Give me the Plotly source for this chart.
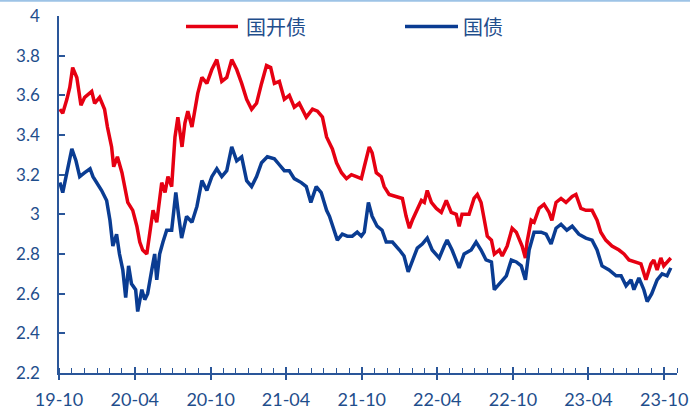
import plotly.graph_objects as go

# 国开债 (red)
cdb_dates = ["2019-10-03","2019-10-10","2019-10-20","2019-10-27","2019-11-03","2019-11-13","2019-11-23","2019-12-02","2019-12-19","2019-12-26",
"2020-01-07","2020-01-19","2020-01-26","2020-02-05","2020-02-10","2020-02-19","2020-03-01","2020-03-08","2020-03-15","2020-03-27",
"2020-04-06","2020-04-13","2020-04-20","2020-04-30","2020-05-07","2020-05-15","2020-05-24","2020-06-05","2020-06-13","2020-06-20",
"2020-06-29","2020-07-07","2020-07-14","2020-07-24","2020-07-31","2020-08-07","2020-08-17","2020-08-24","2020-08-31","2020-09-10",
"2020-09-22","2020-10-04","2020-10-16","2020-10-28","2020-11-09","2020-11-21","2020-12-03","2020-12-15","2020-12-27","2021-01-08",
"2021-01-20","2021-02-01","2021-02-13","2021-02-23","2021-03-04","2021-03-16","2021-03-28","2021-04-09","2021-04-21","2021-05-03",
"2021-05-20","2021-06-04","2021-06-16","2021-06-28","2021-07-08","2021-07-15","2021-07-22","2021-08-01","2021-08-13","2021-08-25",
"2021-09-06","2021-09-18","2021-09-30","2021-10-07","2021-10-19","2021-10-26","2021-11-05","2021-11-17","2021-11-24","2021-12-06",
"2021-12-23","2022-01-07","2022-01-16","2022-01-24","2022-01-31","2022-02-12","2022-02-22","2022-03-01","2022-03-08","2022-03-18",
"2022-03-30","2022-04-11","2022-04-23","2022-05-05","2022-05-17","2022-05-24","2022-05-31","2022-06-17","2022-06-29","2022-07-07",
"2022-07-16","2022-07-24","2022-07-31","2022-08-10","2022-08-17","2022-08-29","2022-09-05","2022-09-17","2022-09-29","2022-10-09",
"2022-10-16","2022-10-23","2022-10-31","2022-11-04","2022-11-14","2022-11-21","2022-12-03","2022-12-15","2022-12-27","2023-01-03",
"2023-01-13","2023-01-25","2023-02-06","2023-02-21","2023-03-02","2023-03-14","2023-03-26","2023-04-10","2023-04-22","2023-05-01",
"2023-05-13","2023-05-28","2023-06-14","2023-06-26","2023-07-08","2023-07-25","2023-08-06","2023-08-18","2023-08-30","2023-09-06",
"2023-09-14","2023-09-23","2023-09-30","2023-10-17"]
cdb_values = [3.53,3.51,3.58,3.64,3.74,3.69,3.55,3.59,3.62,3.56,
3.59,3.53,3.44,3.34,3.24,3.29,3.21,3.14,3.06,3.02,
2.94,2.86,2.82,2.80,2.89,3.02,2.96,3.16,3.11,3.19,
3.14,3.39,3.49,3.34,3.46,3.52,3.44,3.53,3.61,3.69,
3.66,3.73,3.78,3.67,3.69,3.78,3.73,3.66,3.58,3.53,
3.56,3.66,3.75,3.74,3.66,3.67,3.58,3.60,3.54,3.56,
3.49,3.53,3.52,3.49,3.39,3.36,3.33,3.26,3.21,3.18,
3.20,3.19,3.18,3.24,3.34,3.31,3.21,3.19,3.14,3.10,
3.09,3.08,2.99,2.93,2.97,3.02,3.07,3.06,3.12,3.06,
3.03,3.01,3.07,3.01,3.00,2.94,3.00,3.00,3.08,3.10,
3.06,2.97,2.89,2.87,2.80,2.82,2.79,2.84,2.93,2.91,
2.87,2.84,2.78,2.86,2.97,2.96,3.03,3.05,3.01,2.97,
3.06,3.08,3.06,3.09,3.10,3.03,3.02,3.02,2.97,2.91,
2.87,2.84,2.82,2.80,2.77,2.76,2.75,2.67,2.75,2.77,
2.72,2.78,2.74,2.78]

# 国债 (blue)
cgb_dates = ["2019-10-03","2019-10-10","2019-10-20","2019-11-01","2019-11-11","2019-11-20","2019-12-02","2019-12-15","2019-12-22","2019-12-31",
"2020-01-12","2020-01-24","2020-02-01","2020-02-08","2020-02-17","2020-02-24","2020-03-03","2020-03-10","2020-03-17","2020-03-24",
"2020-04-03","2020-04-08","2020-04-18","2020-04-25","2020-05-02","2020-05-12","2020-05-19","2020-05-24","2020-05-31","2020-06-08",
"2020-06-17","2020-06-29","2020-07-09","2020-07-16","2020-07-23","2020-08-04","2020-08-17","2020-08-29","2020-09-10","2020-09-22",
"2020-10-04","2020-10-16","2020-10-28","2020-11-09","2020-11-21","2020-12-03","2020-12-15","2020-12-27","2021-01-08","2021-01-20",
"2021-02-01","2021-02-15","2021-03-04","2021-03-16","2021-03-28","2021-04-09","2021-04-21","2021-05-08","2021-05-20","2021-05-31",
"2021-06-13","2021-06-25","2021-07-08","2021-07-15","2021-07-22","2021-08-03","2021-08-15","2021-08-27","2021-09-08","2021-09-20",
"2021-09-30","2021-10-07","2021-10-17","2021-10-26","2021-11-07","2021-11-19","2021-11-29","2021-12-14","2021-12-31","2022-01-11",
"2022-01-21","2022-01-31","2022-02-12","2022-02-24","2022-03-08","2022-03-20","2022-04-06","2022-04-18","2022-04-25","2022-05-07",
"2022-05-24","2022-06-05","2022-06-22","2022-07-04","2022-07-16","2022-07-28","2022-08-10","2022-08-17","2022-08-29","2022-09-15",
"2022-09-27","2022-10-09","2022-10-21","2022-10-31","2022-11-09","2022-11-21","2022-12-08","2022-12-20","2023-01-01","2023-01-13",
"2023-01-25","2023-02-08","2023-02-21","2023-03-09","2023-03-26","2023-04-10","2023-04-22","2023-05-04","2023-05-21","2023-06-07",
"2023-06-19","2023-07-01","2023-07-13","2023-07-20","2023-08-01","2023-08-13","2023-08-21","2023-09-01","2023-09-14","2023-09-26",
"2023-10-08","2023-10-17"]
cgb_values = [3.16,3.11,3.21,3.33,3.27,3.19,3.21,3.23,3.19,3.16,
3.12,3.07,2.97,2.84,2.90,2.80,2.72,2.58,2.74,2.65,
2.62,2.51,2.62,2.57,2.60,2.72,2.80,2.67,2.80,2.86,
2.92,2.92,3.11,2.99,2.88,2.99,2.96,3.04,3.17,3.12,
3.19,3.23,3.19,3.22,3.34,3.27,3.29,3.17,3.14,3.19,
3.26,3.29,3.28,3.25,3.22,3.22,3.18,3.16,3.14,3.06,
3.14,3.11,3.02,2.99,2.94,2.87,2.90,2.89,2.89,2.91,
2.89,2.91,3.06,2.99,2.94,2.92,2.86,2.86,2.82,2.79,
2.71,2.76,2.83,2.85,2.88,2.82,2.78,2.84,2.87,2.82,
2.73,2.80,2.82,2.86,2.82,2.77,2.76,2.62,2.65,2.69,
2.77,2.76,2.74,2.67,2.82,2.91,2.91,2.90,2.85,2.93,
2.95,2.92,2.94,2.90,2.88,2.87,2.82,2.74,2.72,2.69,
2.69,2.64,2.67,2.62,2.68,2.62,2.56,2.60,2.67,2.70,
2.69,2.73]

series_names = ["国开债", "国债"]
RED = "#E60012"
BLUE = "#0A3C92"
TEXT = "#1F4E8C"
AXIS = "#2A5699"

fig = go.Figure()
fig.add_trace(go.Scatter(x=cdb_dates, y=cdb_values, mode="lines", name=series_names[0],
                         line=dict(color=RED, width=3.5)))
fig.add_trace(go.Scatter(x=cgb_dates, y=cgb_values, mode="lines", name=series_names[1],
                         line=dict(color=BLUE, width=3.5)))
# helper trace for overlay axis (major ticks drawn upward)
fig.add_trace(go.Scatter(x=[None], y=[None], xaxis="x2", showlegend=False, hoverinfo="skip"))

xrange = ["2019-10-01", "2023-11-01"]
fig.update_layout(
    width=690, height=414,
    margin=dict(l=59, r=13, t=16, b=41),
    paper_bgcolor="white", plot_bgcolor="white",
    showlegend=False,
    font=dict(family="Lato, 'Noto Sans CJK SC', sans-serif", color=TEXT),
    xaxis=dict(type="date", range=xrange, tick0="2019-10-01", dtick="M6", tickformat="%y-%m",
               automargin=False,
               showgrid=False, showline=True, linecolor=AXIS, linewidth=1.5,
               ticks="outside", ticklen=5, tickwidth=1.5, tickcolor=AXIS,
               tickfont=dict(size=18, color=TEXT), ticklabelstandoff=5,
               minor=dict(dtick="M1", tick0="2019-10-01", ticks="inside", ticklen=5, tickwidth=1.2, tickcolor=AXIS),
               zeroline=False),
    xaxis2=dict(type="date", range=xrange, overlaying="x", anchor="y", side="bottom",
                automargin=False,
                tick0="2019-10-01", dtick="M6", ticks="inside", ticklen=6, tickwidth=1.5, tickcolor=AXIS,
                showticklabels=False, showgrid=False, showline=False, zeroline=False),
    yaxis=dict(range=[2.2, 4.0], dtick=0.2, tick0=2.2, showgrid=False, zeroline=False,
               automargin=False,
               showline=True, linecolor=AXIS, linewidth=1.5,
               ticks="inside", ticklen=6, tickwidth=1.5, tickcolor=AXIS,
               tickfont=dict(size=17, color=TEXT), ticklabelstandoff=14,
               tickformat="~g"),
)

# top light-blue frame line
fig.add_shape(type="line", xref="paper", yref="paper", x0=-59/618, x1=1+13/618,
              y0=1+15.2/357, y1=1+15.2/357, line=dict(color="#9DC3E6", width=2))

# manual legend
ly = (373 - 26.5) / 357
fig.add_shape(type="line", xref="paper", yref="paper", x0=(186-59)/618, x1=(238-59)/618,
              y0=ly, y1=ly, line=dict(color=RED, width=3.5))
fig.add_shape(type="line", xref="paper", yref="paper", x0=(405-59)/618, x1=(458-59)/618,
              y0=ly, y1=ly, line=dict(color=BLUE, width=3.5))
fig.add_annotation(xref="paper", yref="paper", x=(244-59)/618, y=ly, xanchor="left", yanchor="middle",
                   text=series_names[0], showarrow=False,
                   font=dict(family="'Noto Sans CJK SC'", size=20, color=TEXT))
fig.add_annotation(xref="paper", yref="paper", x=(461-59)/618, y=ly, xanchor="left", yanchor="middle",
                   text=series_names[1], showarrow=False,
                   font=dict(family="'Noto Sans CJK SC'", size=20, color=TEXT))

fig.write_html("out.html")
